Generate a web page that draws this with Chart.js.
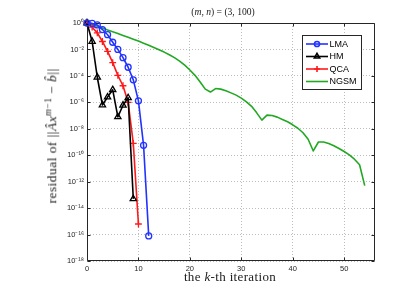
<!DOCTYPE html>
<html><head><meta charset="utf-8">
<script src="https://cdn.jsdelivr.net/npm/chart.js@4.4.1/dist/chart.umd.min.js"></script>
<style>
html,body{margin:0;padding:0;background:#fff;}
#wrap{position:relative;width:415px;height:293px;overflow:hidden;background:#fff;}
canvas{position:absolute;left:0;top:0;}
.t{position:absolute;font-family:"Liberation Serif","Times New Roman",serif;color:#1a1a1a;white-space:nowrap;line-height:1;}
.t i{font-style:italic;}
.sup{font-size:0.7em;position:relative;top:-0.5em;}
</style></head><body>
<div id="wrap">
<canvas id="c" width="415" height="293"></canvas>
<div class="t" id="title" style="left:223px;top:12px;font-size:9.6px;transform:translate(-50%,-50%);">(<i>m</i>, <i>n</i>) = (3, 100)</div>
<div class="t" id="xl" style="left:230px;top:276px;font-size:13px;letter-spacing:0.35px;transform:translate(-50%,-50%);">the <i>k</i>-th iteration</div>
<div class="t" id="yl" style="left:52px;top:136px;font-size:13.5px;letter-spacing:0.45px;transform:translate(-50%,-50%) rotate(-90deg);">residual of ||<i>Â</i><i>x</i><span class="sup"><i>m</i>−1</span> − <i>b̂</i>||</div>
</div>
<script>
// ---- data ----
const seriesNames = ['LMA', 'HM', 'QCA', 'NGSM'];
const lmaIter = [0,1,2,3,4,5,6,7,8,9,10,11,12];
const lmaRes  = [1, 0.93, 0.71, 0.32, 0.13, 3.5e-2, 1.0e-2, 2.4e-3, 4.5e-4, 5.0e-5, 1.3e-6, 5.6e-10, 7.9e-17];
const hmIter = [0,1,2,3,4,5,6,7,8,9];
const hmRes  = [1, 4.0e-2, 7.9e-5, 6.3e-7, 2.5e-6, 8.9e-6, 7.9e-8, 6.0e-7, 2.2e-6, 5.0e-14];
const qcaIter = [0,1,2,3,4,5,6,7,8,9,10];
const qcaRes  = [1, 0.48, 0.18, 4.0e-2, 7.1e-3, 1.0e-3, 1.1e-4, 1.8e-5, 1.0e-6, 7.9e-10, 6.3e-16];
const ngsmIter = [0,1,2,3,4,5,6,7,8,9,10,11,12,13,14,15,16,17,18,19,20,21,22,23,24,25,26,27,28,29,30,31,32,33,34,35,36,37,38,39,40,41,42,43,44,45,46,47,48,49,50,51,52,53,54];
const ngsmRes  = [1, 0.76, 0.56, 0.42, 0.30, 0.22, 0.16, 0.115, 0.083, 0.060,
  0.043, 0.030, 0.021, 0.014, 9.5e-3, 6.3e-3, 4.0e-3, 2.4e-3, 1.3e-3, 6.6e-4,
  2.8e-4, 1.1e-4, 3.5e-5, 1.0e-5, 6.0e-6, 1.1e-5, 1.0e-5, 7.6e-6, 5.2e-6, 3.5e-6,
  2.1e-6, 1.1e-6, 5.0e-7, 1.6e-7, 4.5e-8, 1.07e-7, 1.0e-7, 7.6e-8, 5.0e-8, 3.4e-8,
  2.0e-8, 1.1e-8, 5.0e-9, 1.6e-9, 2.1e-10, 1.0e-9, 1.0e-9, 7.6e-10, 5.2e-10, 3.2e-10,
  1.9e-10, 1.05e-10, 5.0e-11, 1.9e-11, 5.0e-13];
const xTickValues = [0, 10, 20, 30, 40, 50];
const xTickLabels = ['0', '10', '20', '30', '40', '50'];
const yTickValues = [1, 1e-2, 1e-4, 1e-6, 1e-8, 1e-10, 1e-12, 1e-14, 1e-16, 1e-18];
const yTickLabels = ['10⁰', '10⁻²', '10⁻⁴', '10⁻⁶', '10⁻⁸', '10⁻¹⁰', '10⁻¹²', '10⁻¹⁴', '10⁻¹⁶', '10⁻¹⁸'];

const pts = (xs, ys) => xs.map((x, i) => ({x: x, y: ys[i]}));
const AXIS = '#262626';
const TICKFONT = {family: '"Liberation Sans", Arial, sans-serif', size: 7.5};

const datasets = [
  {label: seriesNames[0], data: pts(lmaIter, lmaRes), borderColor: '#2233ff', borderWidth: 1.6,
   pointStyle: 'circle', pointRadius: 3, pointBorderWidth: 1.3, pointBorderColor: '#2233ff', pointBackgroundColor: 'rgba(0,0,0,0)'},
  {label: seriesNames[1], data: pts(hmIter, hmRes), borderColor: '#000', borderWidth: 1.6,
   pointStyle: 'triangle', pointRadius: 3.6, pointBorderWidth: 1.3, pointBorderColor: '#000', pointBackgroundColor: 'rgba(0,0,0,0)'},
  {label: seriesNames[2], data: pts(qcaIter, qcaRes), borderColor: '#ff1a1a', borderWidth: 1.6,
   pointStyle: 'cross', pointRadius: 3.4, pointBorderWidth: 1.3, pointBorderColor: '#ff1a1a', pointBackgroundColor: '#ff1a1a'},
  {label: seriesNames[3], data: pts(ngsmIter, ngsmRes), borderColor: '#22a822', borderWidth: 1.6,
   pointRadius: 0}
];
datasets.forEach(d => { d.tension = 0; d.clip = false; d.fill = false; });

const framePlugin = {
  id: 'frame',
  beforeDatasetsDraw(chart) {
    const {ctx, chartArea: a, scales} = chart;
    ctx.save();
    ctx.strokeStyle = AXIS;
    ctx.lineWidth = 1;
    ctx.beginPath();
    const L = Math.round(a.left) + 0.5, R = Math.round(a.right) - 0.5;
    const T = Math.round(a.top) + 0.5, B = Math.round(a.bottom) - 0.5;
    ctx.rect(L, T, R - L, B - T);
    const tl = 3;
    scales.x.ticks.forEach(t => {
      const px = Math.round(scales.x.getPixelForValue(t.value)) + 0.5;
      ctx.moveTo(px, B); ctx.lineTo(px, B - tl);
      ctx.moveTo(px, T); ctx.lineTo(px, T + tl);
    });
    scales.y.ticks.forEach(t => {
      const py = Math.round(scales.y.getPixelForValue(t.value)) + 0.5;
      ctx.moveTo(L, py); ctx.lineTo(L + tl, py);
      ctx.moveTo(R, py); ctx.lineTo(R - tl, py);
    });
    ctx.stroke();
    ctx.restore();
  }
};

const legendPlugin = {
  id: 'boxLegend',
  afterDraw(chart) {
    const {ctx} = chart;
    const bx = 302.5, by = 35.5, bw = 59, bh = 54;
    ctx.save();
    ctx.fillStyle = '#fff';
    ctx.fillRect(bx, by, bw, bh);
    ctx.strokeStyle = AXIS;
    ctx.lineWidth = 1;
    ctx.strokeRect(bx, by, bw, bh);
    const rows = [44, 56.5, 69, 81.5];
    chart.data.datasets.forEach((d, i) => {
      const y = rows[i];
      ctx.strokeStyle = d.borderColor;
      ctx.lineWidth = d.borderWidth;
      ctx.beginPath();
      ctx.moveTo(306, y); ctx.lineTo(328, y);
      ctx.stroke();
      if (d.pointRadius > 0) {
        ctx.strokeStyle = d.pointBorderColor;
        ctx.fillStyle = d.pointBackgroundColor;
        Chart.helpers.drawPoint(ctx, {pointStyle: d.pointStyle, radius: d.pointRadius * 0.85, borderWidth: d.pointBorderWidth, rotation: 0}, 317, y);
      }
      ctx.fillStyle = '#000';
      ctx.font = '9px "Liberation Sans", Arial, sans-serif';
      ctx.textBaseline = 'middle';
      ctx.textAlign = 'left';
      ctx.fillText(d.label, 329.5, y + 0.5);
    });
    ctx.restore();
  }
};

new Chart(document.getElementById('c'), {
  type: 'line',
  data: {datasets: datasets},
  plugins: [framePlugin, legendPlugin],
  options: {
    responsive: false,
    animation: false,
    devicePixelRatio: 1,
    layout: {padding: {left: 0, right: 40, top: 23, bottom: 0}},
    plugins: {legend: {display: false}, title: {display: false}, tooltip: {enabled: false}},
    elements: {line: {borderJoinStyle: 'round'}},
    scales: {
      x: {
        type: 'linear', min: 0, max: 56,
        afterBuildTicks: s => { s.ticks = xTickValues.map(v => ({value: v})); },
        afterFit: s => { s.height = 32; },
        ticks: {font: TICKFONT, color: AXIS, padding: 3, maxRotation: 0, autoSkip: false,
                callback: (v, i) => xTickLabels[i]},
        grid: {color: '#bdbdbd', lineWidth: 1, drawTicks: false},
        border: {display: false, dash: [1, 2]}
      },
      y: {
        type: 'logarithmic', min: 1e-18, max: 1,
        afterBuildTicks: s => { s.ticks = yTickValues.map(v => ({value: v})); },
        afterFit: s => { s.width = 87; },
        ticks: {font: TICKFONT, color: AXIS, padding: 3, autoSkip: false,
                callback: (v, i) => yTickLabels[i]},
        grid: {color: '#bdbdbd', lineWidth: 1, drawTicks: false},
        border: {display: false, dash: [1, 2]}
      }
    }
  }
});
</script>
</body></html>
